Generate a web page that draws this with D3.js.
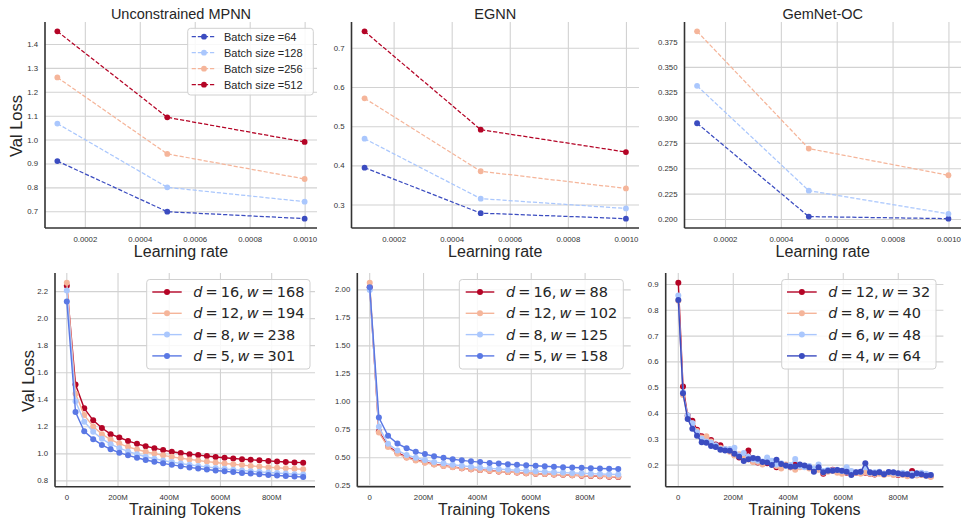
<!DOCTYPE html>
<html>
<head>
<meta charset="utf-8">
<script src="https://cdn.jsdelivr.net/npm/d3@7"></script>
<style>
  html, body { margin: 0; padding: 0; background: #ffffff; }
  svg { display: block; }
</style>
</head>
<body>
<svg id="chart" width="961" height="518"></svg>
<script>
// ---------- Learning-rate sweeps (top row) ----------
const learningRates = [0.0001, 0.0005, 0.001];
const batchSizes = [64, 128, 256, 512];
const lrTicks = [0.0002, 0.0004, 0.0006, 0.0008, 0.0010];

const mpnnBs64  = [0.910, 0.698, 0.669];
const mpnnBs128 = [1.067, 0.800, 0.740];
const mpnnBs256 = [1.260, 0.940, 0.835];
const mpnnBs512 = [1.453, 1.093, 0.990];

const egnnBs64  = [0.394, 0.278, 0.264];
const egnnBs128 = [0.468, 0.315, 0.290];
const egnnBs256 = [0.571, 0.385, 0.341];
const egnnBs512 = [0.742, 0.491, 0.434];

const gemnetBs64  = [0.2944, 0.2023, 0.2003];
const gemnetBs128 = [0.3313, 0.2279, 0.2050];
const gemnetBs256 = [0.3850, 0.2694, 0.2431];

const mpnnYTicks   = [0.7, 0.8, 0.9, 1.0, 1.1, 1.2, 1.3, 1.4];
const egnnYTicks   = [0.3, 0.4, 0.5, 0.6, 0.7];
const gemnetYTicks = [0.200, 0.225, 0.250, 0.275, 0.300, 0.325, 0.350, 0.375];

// ---------- Depth / width scans (bottom row), tokens in millions ----------
const tokensM = [2, 36, 70, 105, 139, 173, 207, 241, 276, 310, 344, 378, 412, 447,
                 481, 515, 549, 583, 618, 652, 686, 720, 754, 789, 823, 857, 891, 925];
const tokenTicks = [0, 200, 400, 600, 800];

const mpnnDepths = [16, 12, 8, 5];
const mpnnWidths = [168, 194, 238, 301];
const mpnnD16 = [2.240, 1.509, 1.333, 1.244, 1.187, 1.142, 1.117, 1.092, 1.070, 1.052, 1.038, 1.024, 1.012, 1.002,
                 0.994, 0.987, 0.980, 0.973, 0.967, 0.962, 0.957, 0.952, 0.948, 0.944, 0.940, 0.936, 0.933, 0.931];
const mpnnD12 = [2.262, 1.440, 1.283, 1.199, 1.142, 1.102, 1.072, 1.048, 1.028, 1.012, 0.998, 0.985, 0.974, 0.964,
                 0.955, 0.947, 0.939, 0.932, 0.925, 0.919, 0.913, 0.907, 0.902, 0.897, 0.893, 0.889, 0.885, 0.882];
const mpnnD8  = [2.205, 1.385, 1.234, 1.160, 1.107, 1.068, 1.038, 1.014, 0.993, 0.975, 0.960, 0.947, 0.935, 0.925,
                 0.915, 0.907, 0.899, 0.892, 0.885, 0.879, 0.873, 0.868, 0.863, 0.858, 0.854, 0.850, 0.846, 0.843];
const mpnnD5  = [2.123, 1.305, 1.163, 1.105, 1.062, 1.030, 1.005, 0.985, 0.967, 0.951, 0.938, 0.926, 0.915, 0.905,
                 0.896, 0.888, 0.880, 0.873, 0.867, 0.861, 0.855, 0.850, 0.845, 0.840, 0.836, 0.832, 0.828, 0.825];

const egnnDepths = [16, 12, 8, 5];
const egnnWidths = [88, 102, 125, 158];
const egnnD16 = [2.020, 0.730, 0.600, 0.540, 0.500, 0.475, 0.455, 0.437, 0.424, 0.412, 0.402, 0.393, 0.386, 0.379,
                 0.373, 0.367, 0.362, 0.357, 0.353, 0.349, 0.345, 0.342, 0.338, 0.335, 0.332, 0.329, 0.326, 0.323];
const egnnD12 = [2.060, 0.720, 0.590, 0.530, 0.495, 0.470, 0.450, 0.434, 0.421, 0.410, 0.400, 0.392, 0.385, 0.378,
                 0.372, 0.367, 0.362, 0.357, 0.353, 0.349, 0.346, 0.343, 0.339, 0.336, 0.333, 0.331, 0.328, 0.326];
const egnnD8  = [1.994, 0.772, 0.620, 0.560, 0.520, 0.495, 0.475, 0.458, 0.445, 0.433, 0.423, 0.414, 0.406, 0.400,
                 0.394, 0.388, 0.383, 0.378, 0.374, 0.370, 0.366, 0.362, 0.359, 0.356, 0.353, 0.350, 0.348, 0.346];
const egnnD5  = [2.020, 0.855, 0.691, 0.622, 0.580, 0.548, 0.528, 0.508, 0.494, 0.482, 0.472, 0.463, 0.456, 0.449,
                 0.443, 0.437, 0.432, 0.427, 0.423, 0.419, 0.415, 0.411, 0.408, 0.405, 0.402, 0.399, 0.397, 0.395];

const gemTokensM = [2, 19, 36, 53, 70, 87, 104, 121, 138, 155, 172, 189, 206, 223, 240, 257, 274, 291, 308,
                    325, 342, 359, 376, 393, 410, 427, 444, 461, 478, 495, 512, 529, 546, 563, 580, 597, 614,
                    631, 648, 665, 682, 699, 716, 733, 750, 767, 784, 801, 818, 835, 852, 869, 886, 903, 920];
const gemDepths = [12, 8, 6, 4];
const gemWidths = [32, 40, 48, 64];
const gemD12 = [0.905, 0.503, 0.390, 0.370, 0.335, 0.310, 0.298, 0.295, 0.278, 0.275, 0.258, 0.255, 0.238, 0.228,
                0.222, 0.255, 0.212, 0.208, 0.210, 0.205, 0.208, 0.190, 0.195, 0.198, 0.190, 0.200, 0.195, 0.192,
                0.188, 0.180, 0.182, 0.165, 0.175, 0.180, 0.173, 0.170, 0.168, 0.172, 0.168, 0.170, 0.168, 0.165,
                0.162, 0.168, 0.165, 0.168, 0.165, 0.160, 0.165, 0.162, 0.175, 0.160, 0.162, 0.160, 0.155];
const gemD8  = [0.835, 0.470, 0.385, 0.360, 0.330, 0.305, 0.310, 0.290, 0.270, 0.265, 0.260, 0.250, 0.235, 0.240,
                0.225, 0.220, 0.210, 0.210, 0.200, 0.210, 0.205, 0.195, 0.185, 0.200, 0.190, 0.180, 0.190, 0.195,
                0.185, 0.175, 0.180, 0.168, 0.172, 0.175, 0.168, 0.165, 0.170, 0.165, 0.168, 0.165, 0.170, 0.165,
                0.163, 0.165, 0.160, 0.165, 0.160, 0.162, 0.160, 0.155, 0.160, 0.158, 0.160, 0.158, 0.152];
const gemD6  = [0.855, 0.480, 0.390, 0.360, 0.325, 0.300, 0.290, 0.285, 0.275, 0.260, 0.260, 0.260, 0.265, 0.235,
                0.245, 0.230, 0.220, 0.215, 0.212, 0.228, 0.215, 0.200, 0.205, 0.195, 0.198, 0.222, 0.195, 0.190,
                0.195, 0.185, 0.200, 0.175, 0.180, 0.178, 0.180, 0.175, 0.190, 0.175, 0.170, 0.172, 0.190, 0.168,
                0.170, 0.172, 0.165, 0.170, 0.168, 0.165, 0.168, 0.165, 0.165, 0.162, 0.168, 0.165, 0.160];
const gemD4  = [0.838, 0.477, 0.377, 0.339, 0.312, 0.287, 0.285, 0.272, 0.268, 0.258, 0.255, 0.254, 0.242, 0.230,
                0.214, 0.221, 0.226, 0.223, 0.210, 0.208, 0.198, 0.219, 0.202, 0.197, 0.192, 0.193, 0.200, 0.197,
                0.190, 0.172, 0.190, 0.170, 0.176, 0.176, 0.179, 0.176, 0.172, 0.160, 0.170, 0.172, 0.205, 0.170,
                0.166, 0.170, 0.163, 0.171, 0.170, 0.166, 0.163, 0.163, 0.157, 0.166, 0.163, 0.157, 0.160];

const mpnnLossTicks   = [0.8, 1.0, 1.2, 1.4, 1.6, 1.8, 2.0, 2.2];
const egnnLossTicks   = [0.25, 0.50, 0.75, 1.00, 1.25, 1.50, 1.75, 2.00];
const gemnetLossTicks = [0.2, 0.3, 0.4, 0.5, 0.6, 0.7, 0.8, 0.9];

// ---------- Styling ----------
const RED = "#b40426", SALMON = "#f5b59a", LIGHTBLUE = "#aac7fd", MIDBLUE = "#5a78e4", DARKBLUE = "#3b4cc0";
const FONT = "'Liberation Sans', Arial, Helvetica, sans-serif";
const TEXT = "#262626";

const svg = d3.select("#chart");

function padded(values) {
  const lo = d3.min(values), hi = d3.max(values), m = (hi - lo) * 0.05;
  return [lo - m, hi + m];
}

function drawFrame(box, xs, ys, xTicks, yTicks, xFmt, yFmt) {
  const g = svg.append("g");
  const h = box.y1 - box.y0, w = box.x1 - box.x0;
  // grid
  g.append("g").attr("transform", `translate(0,${box.y1})`)
    .call(d3.axisBottom(xs).tickValues(xTicks).tickSize(-h).tickFormat(""))
    .call(a => a.select(".domain").remove())
    .selectAll("line").attr("stroke", "#d2d2d2").attr("stroke-width", 1.1);
  g.append("g").attr("transform", `translate(${box.x0},0)`)
    .call(d3.axisLeft(ys).tickValues(yTicks).tickSize(-w).tickFormat(""))
    .call(a => a.select(".domain").remove())
    .selectAll("line").attr("stroke", "#d2d2d2").attr("stroke-width", 1.1);
  // tick labels
  const xa = g.append("g").attr("transform", `translate(0,${box.y1})`)
    .call(d3.axisBottom(xs).tickValues(xTicks).tickSize(0).tickPadding(8).tickFormat(xFmt));
  const ya = g.append("g").attr("transform", `translate(${box.x0},0)`)
    .call(d3.axisLeft(ys).tickValues(yTicks).tickSize(0).tickPadding(7).tickFormat(yFmt));
  [xa, ya].forEach(a => {
    a.select(".domain").remove();
    a.selectAll("text").attr("font-family", FONT).attr("font-size", 7.8).attr("fill", "#333");
  });
  // spines (left and bottom only)
  g.append("line").attr("x1", box.x0).attr("x2", box.x0).attr("y1", box.y0).attr("y2", box.y1)
    .attr("stroke", "#333").attr("stroke-width", 1.6);
  g.append("line").attr("x1", box.x0).attr("x2", box.x1).attr("y1", box.y1).attr("y2", box.y1)
    .attr("stroke", "#333").attr("stroke-width", 1.6);
  return g;
}

function drawSeries(g, xs, ys, xv, yv, color, dashed, r) {
  const pts = xv.map((x, i) => [x, yv[i]]);
  g.append("path").datum(pts)
    .attr("fill", "none").attr("stroke", color).attr("stroke-width", dashed ? 1.25 : 1.4)
    .attr("stroke-dasharray", dashed ? "4.2,1.9" : null)
    .attr("d", d3.line().x(d => xs(d[0])).y(d => ys(d[1])));
  g.selectAll(null).data(pts).enter().append("circle")
    .attr("cx", d => xs(d[0])).attr("cy", d => ys(d[1])).attr("r", r).attr("fill", color);
}

function legendBox(box) {
  svg.append("rect").attr("x", box.x0).attr("y", box.y0)
    .attr("width", box.x1 - box.x0).attr("height", box.y1 - box.y0).attr("rx", 3)
    .attr("fill", "#ffffff").attr("fill-opacity", 0.85).attr("stroke", "#d0d0d0").attr("stroke-width", 1);
}

// ---------- Top row ----------
const lrFmt = d3.format(".4f");
const topPanels = [
  { title: "Unconstrained MPNN", box: { x0: 45, x1: 317, y0: 22, y1: 228 },
    series: [mpnnBs64, mpnnBs128, mpnnBs256, mpnnBs512], colors: [DARKBLUE, LIGHTBLUE, SALMON, RED],
    yTicks: mpnnYTicks, yFmt: d3.format(".1f"), legend: true },
  { title: "EGNN", box: { x0: 351.5, x1: 639, y0: 22, y1: 228 },
    series: [egnnBs64, egnnBs128, egnnBs256, egnnBs512], colors: [DARKBLUE, LIGHTBLUE, SALMON, RED],
    yTicks: egnnYTicks, yFmt: d3.format(".1f") },
  { title: "GemNet-OC", box: { x0: 684.5, x1: 961, y0: 22, y1: 228 },
    series: [gemnetBs64, gemnetBs128, gemnetBs256], colors: [DARKBLUE, LIGHTBLUE, SALMON],
    yTicks: gemnetYTicks, yFmt: d3.format(".3f") }
];

topPanels.forEach(p => {
  const xs = d3.scaleLinear().domain(padded(learningRates)).range([p.box.x0, p.box.x1]);
  const ys = d3.scaleLinear().domain(padded(p.series.flat())).range([p.box.y1, p.box.y0]);
  const g = drawFrame(p.box, xs, ys, lrTicks, p.yTicks, lrFmt, p.yFmt);
  p.series.forEach((s, i) => drawSeries(g, xs, ys, learningRates, s, p.colors[i], true, 2.9));
  svg.append("text").attr("x", (p.box.x0 + p.box.x1) / 2).attr("y", 13.5)
    .attr("text-anchor", "middle").attr("dominant-baseline", "central")
    .attr("font-family", FONT).attr("font-size", 14.5).attr("fill", TEXT).text(p.title);
  svg.append("text").attr("x", (p.box.x0 + p.box.x1) / 2).attr("y", 251)
    .attr("text-anchor", "middle").attr("dominant-baseline", "central")
    .attr("font-family", FONT).attr("font-size", 16).attr("fill", TEXT).text("Learning rate");
  if (p.legend) {
    legendBox({ x0: 187.7, x1: 313.3, y0: 28.3, y1: 95 });
    batchSizes.forEach((b, i) => {
      const y = 36.7 + i * 16;
      const c = p.colors[i];
      svg.append("line").attr("x1", 191.7).attr("x2", 216).attr("y1", y).attr("y2", y)
        .attr("stroke", c).attr("stroke-width", 1.25).attr("stroke-dasharray", "4.2,1.9");
      svg.append("circle").attr("cx", 204).attr("cy", y).attr("r", 2.9).attr("fill", c);
      svg.append("text").attr("x", 224).attr("y", y).attr("dominant-baseline", "central")
        .attr("font-family", FONT).attr("font-size", 11).attr("fill", TEXT)
        .text("Batch size =" + b);
    });
  }
});
svg.append("text").attr("transform", "translate(16,126) rotate(-90)")
  .attr("text-anchor", "middle").attr("dominant-baseline", "central")
  .attr("font-family", FONT).attr("font-size", 16.5).attr("fill", TEXT).text("Val Loss");

// ---------- Bottom row ----------
const tokFmt = d => d === 0 ? "0" : d + "M";
const bottomPanels = [
  { box: { x0: 55, x1: 315, y0: 273, y1: 486.7 }, x: tokensM,
    series: [mpnnD16, mpnnD12, mpnnD8, mpnnD5], colors: [RED, SALMON, LIGHTBLUE, MIDBLUE],
    depths: mpnnDepths, widths: mpnnWidths, yTicks: mpnnLossTicks, yFmt: d3.format(".1f"),
    legend: { x0: 146.7, x1: 310, lineX0: 152.3, lineX1: 181.7, textX: 193.3 } },
  { box: { x0: 357.3, x1: 630.7, y0: 273, y1: 486.7 }, x: tokensM,
    series: [egnnD16, egnnD12, egnnD8, egnnD5], colors: [RED, SALMON, LIGHTBLUE, MIDBLUE],
    depths: egnnDepths, widths: egnnWidths, yTicks: egnnLossTicks, yFmt: d3.format(".2f"),
    legend: { x0: 459.3, x1: 623.3, lineX0: 465.7, lineX1: 494.3, textX: 506 } },
  { box: { x0: 665.7, x1: 943.4, y0: 273, y1: 486.7 }, x: gemTokensM,
    series: [gemD12, gemD8, gemD6, gemD4], colors: [RED, SALMON, LIGHTBLUE, DARKBLUE],
    depths: gemDepths, widths: gemWidths, yTicks: gemnetLossTicks, yFmt: d3.format(".1f"),
    legend: { x0: 781.7, x1: 936, lineX0: 787, lineX1: 816.7, textX: 828.3 } }
];

bottomPanels.forEach(p => {
  const xs = d3.scaleLinear().domain(padded(p.x)).range([p.box.x0, p.box.x1]);
  const ys = d3.scaleLinear().domain(padded(p.series.flat())).range([p.box.y1, p.box.y0]);
  const g = drawFrame(p.box, xs, ys, tokenTicks, p.yTicks, tokFmt, p.yFmt);
  p.series.forEach((s, i) => drawSeries(g, xs, ys, p.x, s, p.colors[i], false, 3));
  svg.append("text").attr("x", (p.box.x0 + p.box.x1) / 2).attr("y", 509)
    .attr("text-anchor", "middle").attr("dominant-baseline", "central")
    .attr("font-family", FONT).attr("font-size", 16).attr("fill", TEXT).text("Training Tokens");
  const L = p.legend;
  legendBox({ x0: L.x0, x1: L.x1, y0: 279.5, y1: 369 });
  p.depths.forEach((d, i) => {
    const y = 292 + i * 21.3;
    const c = p.colors[i];
    svg.append("line").attr("x1", L.lineX0).attr("x2", L.lineX1).attr("y1", y).attr("y2", y)
      .attr("stroke", c).attr("stroke-width", 1.4);
    svg.append("circle").attr("cx", (L.lineX0 + L.lineX1) / 2).attr("cy", y).attr("r", 3).attr("fill", c);
    // math-style label: italic symbols with tight spacing around "="
    const t = svg.append("text").attr("x", L.textX).attr("y", y).attr("dominant-baseline", "central")
      .attr("font-family", "'DejaVu Sans', sans-serif").attr("font-size", 14.5).attr("fill", TEXT);
    t.append("tspan").attr("font-style", "italic").text("d");
    t.append("tspan").attr("dx", 3).text("=");
    t.append("tspan").attr("dx", 3).text(d + ",");
    t.append("tspan").attr("dx", 3).attr("font-style", "italic").text("w");
    t.append("tspan").attr("dx", 3).text("=");
    t.append("tspan").attr("dx", 3).text(String(p.widths[i]));
  });
});
svg.append("text").attr("transform", "translate(27.5,381) rotate(-90)")
  .attr("text-anchor", "middle").attr("dominant-baseline", "central")
  .attr("font-family", FONT).attr("font-size", 16.5).attr("fill", TEXT).text("Val Loss");
</script>
</body>
</html>
